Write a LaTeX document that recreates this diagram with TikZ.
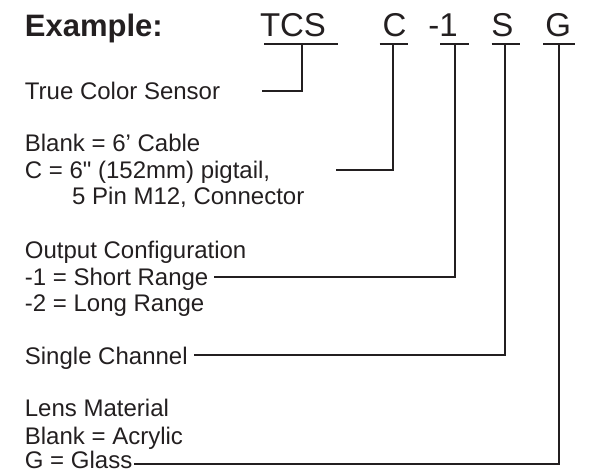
\documentclass[tikz,border=0pt]{standalone}
\usepackage{fontspec}
\setmainfont{Liberation Sans}[Ligatures=TeXOff]
\definecolor{ink}{HTML}{231F20}
\begin{document}
\begin{tikzpicture}[x=1pt,y=-1pt,
  txt/.style={anchor=base west,inner sep=0pt,text=ink,font=\fontsize{24}{28}\selectfont},
  big/.style={anchor=base,inner sep=0pt,text=ink,font=\fontsize{33}{38}\selectfont},
  ttl/.style={anchor=base west,inner sep=0pt,text=ink,font=\fontsize{31}{36}\selectfont\bfseries},
  conn/.style={draw=ink,line width=2pt}]
\useasboundingbox (0,0) rectangle (595,473);
% title row
\node[ttl] (ex) at (24.7,36.5) {Example:};
\node[big] (tcs) at (293,36.5) {TCS};
\node[big] (c) at (394.5,36.5) {C};
\node[big] (m1) at (443,36.5) {-1};
\node[big] (s) at (502.5,36.5) {S};
\node[big] (g) at (558.3,36.5) {G};
% descriptions
\node[txt] (tcsd) at (24.7,99.3) {True Color Sensor};
\node[txt] (cab) at (24.7,152) {Blank = 6’ Cable};
\node[txt] (cc) at (24.7,178.6) {C = 6" (152mm) pigtail,};
\node[txt] (pin) at (72,205) {5 Pin M12, Connector};
\node[txt] (oc) at (24.7,258.6) {Output Configuration};
\node[txt] (sr) at (24.7,285.6) {-1 = Short Range};
\node[txt] (lr) at (24.7,312) {-2 = Long Range};
\node[txt] (sc) at (24.7,364) {Single Channel};
\node[txt] (lm) at (24.7,417) {Lens Material};
\node[txt] (ac) at (24.7,444) {Blank = Acrylic};
\node[txt] (gl) at (24.7,468.5) {G = Glass};
% bar coordinates
\coordinate (tcsL) at (264,44);   \coordinate (tcsR) at (338,44);
\coordinate (tcsJ) at (301.5,44); \coordinate (tcsE) at (262,90.7);
\coordinate (cL) at (379.5,44);   \coordinate (cR) at (408,44);
\coordinate (cJ) at (393,44);     \coordinate (cE) at (336,170);
\coordinate (mL) at (440,44);     \coordinate (mR) at (469,44);
\coordinate (mJ) at (455,44);     \coordinate (mE) at (214.4,277);
\coordinate (sL) at (491.5,44);   \coordinate (sR) at (520,44);
\coordinate (sJ) at (505,44);     \coordinate (sE) at (193.5,355.5);
\coordinate (gL) at (543,44);     \coordinate (gR) at (575,44);
\coordinate (gJ) at (558.5,44);   \coordinate (gE) at (134,464);
% connectors
\draw[conn] (tcsL) -- (tcsR);
\draw[conn] (tcsJ) |- (tcsE);
\draw[conn] (cL) -- (cR);
\draw[conn] (cJ) |- (cE);
\draw[conn] (mL) -- (mR);
\draw[conn] (mJ) |- (mE);
\draw[conn] (sL) -- (sR);
\draw[conn] (sJ) |- (sE);
\draw[conn] (gL) -- (gR);
\draw[conn] (gJ) |- (gE);
\end{tikzpicture}
\end{document}
